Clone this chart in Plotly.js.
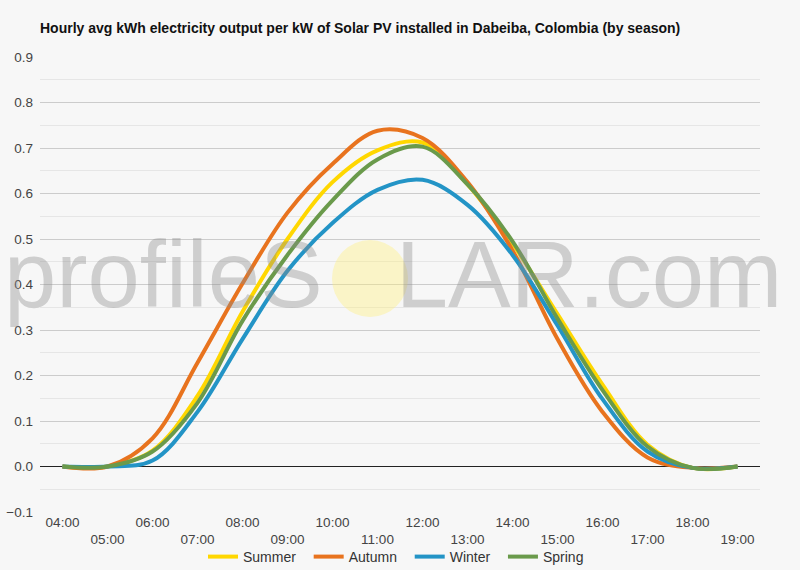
<!DOCTYPE html>
<html>
<head>
<meta charset="utf-8">
<script src="https://cdn.plot.ly/plotly-3.0.1.min.js"></script>
<style>html,body{margin:0;padding:0;background:#f7f7f7;}#chart{width:800px;height:570px;}</style>
</head>
<body>
<div id="chart"></div>
<script>
const hours = [4, 5, 6, 7, 8, 9, 10, 11, 12, 13, 14, 15, 16, 17, 18, 19];
const tickLabels = ["04:00", "05:00", "06:00", "07:00", "08:00", "09:00", "10:00", "11:00",
                    "12:00", "13:00", "14:00", "15:00", "16:00", "17:00", "18:00", "19:00"];
const summer = [0.0, 0.0, 0.035, 0.155, 0.34, 0.50, 0.625, 0.695, 0.712, 0.62, 0.49, 0.335, 0.18, 0.048, -0.003, 0.0];
const autumn = [0.0, 0.0, 0.062, 0.228, 0.402, 0.558, 0.665, 0.738, 0.722, 0.625, 0.475, 0.28, 0.12, 0.02, -0.003, 0.0];
const winter = [0.0, 0.0, 0.013, 0.12, 0.28, 0.43, 0.535, 0.608, 0.63, 0.575, 0.465, 0.31, 0.148, 0.033, -0.003, 0.0];
const spring = [0.0, 0.0, 0.033, 0.14, 0.32, 0.465, 0.585, 0.675, 0.703, 0.62, 0.495, 0.325, 0.168, 0.044, -0.003, 0.0];
const seriesNames = ["Summer", "Autumn", "Winter", "Spring"];
const seriesColors = ["#ffd700", "#e8731e", "#2394c6", "#6a9a4b"];
const seriesData = [summer, autumn, winter, spring];

const shownLabels = tickLabels.map((t, i) => (i % 2 === 0 ? t : "<br>" + t));

const traces = seriesData.map((vals, i) => ({
  type: "scatter",
  mode: "lines",
  name: seriesNames[i] + "\u00a0\u00a0",
  x: hours,
  y: vals,
  line: {color: seriesColors[i], width: 4, shape: "spline", smoothing: 1},
  hoverinfo: "skip"
}));

const font = "Liberation Sans, Arial, sans-serif";

const layout = {
  width: 800,
  height: 570,
  paper_bgcolor: "#f7f7f7",
  plot_bgcolor: "#f7f7f7",
  margin: {l: 40, r: 40, t: 57, b: 58, pad: 0, autoexpand: false},
  font: {family: font, color: "#444", size: 13},
  title: {
    text: "<b>Hourly avg kWh electricity output per kW of Solar PV installed in Dabeiba, Colombia (by season)</b>",
    font: {family: font, size: 14, color: "#111"},
    x: 40 / 800, xref: "container", xanchor: "left",
    y: 1 - 28 / 570, yref: "container", yanchor: "middle"
  },
  xaxis: {
    range: [3.5, 19.5],
    tickvals: hours,
    ticktext: shownLabels,
    showgrid: false,
    zeroline: false,
    showline: false,
    ticks: "",
    automargin: false,
    tickfont: {size: 13.5, color: "#444"},
    fixedrange: true
  },
  yaxis: {
    range: [-0.1, 0.9],
    dtick: 0.1,
    tick0: 0,
    tickformat: ".1f",
    showgrid: true,
    gridcolor: "#cccccc",
    gridwidth: 1,
    minor: {dtick: 0.05, tick0: 0, showgrid: true, gridcolor: "#e6e6e6", gridwidth: 1},
    zeroline: true,
    zerolinecolor: "#222",
    zerolinewidth: 1,
    ticks: "",
    ticklabelstandoff: 6,
    automargin: false,
    tickfont: {size: 13.5, color: "#444"},
    fixedrange: true
  },
  showlegend: true,
  legend: {
    orientation: "h",
    x: 0.5, xanchor: "center",
    y: -45 / 455, yanchor: "middle",
    font: {size: 14, color: "#333"},
    bgcolor: "rgba(0,0,0,0)",
    traceorder: "normal"
  },
  annotations: [{
    text: "profileS<span style='color:rgba(0,0,0,0)'>O</span>LAR.com",
    xref: "paper", yref: "paper",
    x: (2 - 40) / 720, xanchor: "left",
    y: (512 - 274) / 455, yanchor: "middle",
    showarrow: false,
    font: {family: font, size: 94, color: "rgba(140,140,140,0.38)"}
  }],
  shapes: [{
    type: "circle",
    xref: "paper", yref: "paper",
    x0: (332 - 40) / 720, x1: (408 - 40) / 720,
    y0: (512 - 317) / 455, y1: (512 - 240) / 455,
    fillcolor: "rgba(255,238,120,0.38)",
    line: {width: 0},
    layer: "above"
  }]
};

Plotly.newPlot("chart", traces, layout, {displayModeBar: false, staticPlot: true});
</script>
</body>
</html>
